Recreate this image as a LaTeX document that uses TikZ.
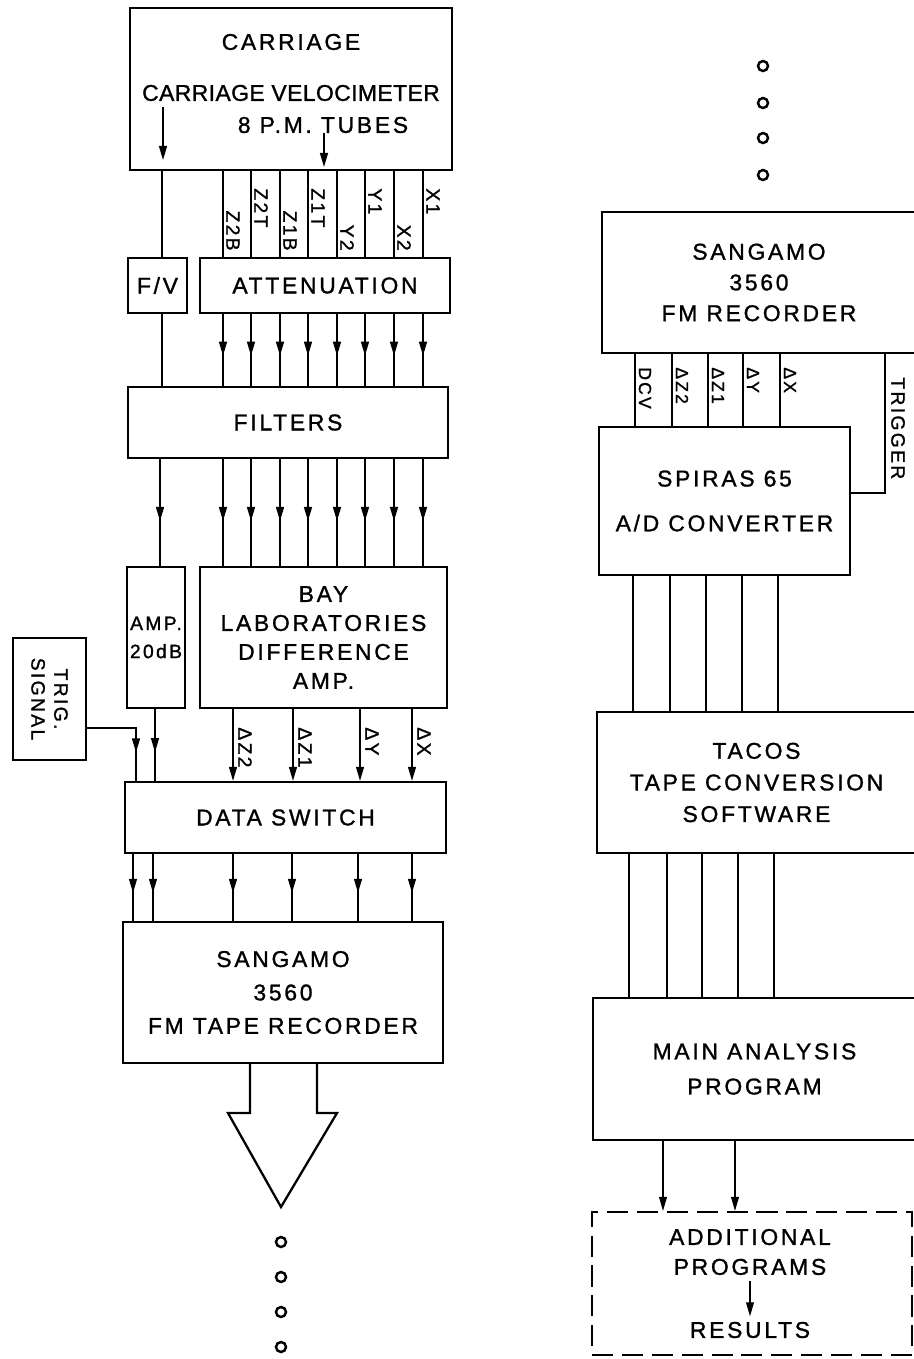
\documentclass[tikz,border=0pt]{standalone}
\usepackage{fontspec}
\setmainfont{Liberation Sans}[LetterSpace=12,FakeBold=1.2]
\usetikzlibrary{arrows.meta,decorations.markings}

\begin{document}
\begin{tikzpicture}[x=0.02cm,y=-0.02cm,
    blk/.style={draw, line width=1.3pt, inner sep=0pt, align=center, font=\fontsize{13}{18}\selectfont},
    txt/.style={inner sep=0pt, align=center, font=\fontsize{13}{18}\selectfont},
    wire/.style={line width=0.9pt},
    lead/.style={line width=0.6pt},
    lbl/.style={rotate=-90, inner sep=0pt, font=\fontsize{11}{13}\selectfont},
    headend/.style={-{Triangle[length=8pt,width=4.5pt]}},
    midarrow/.style={postaction={decorate}, decoration={markings,
        mark=at position #1 with {\arrow{Triangle[length=8pt,width=4.5pt]}}}},
    midarrow/.default=0.58,
    ring/.style={line width=1.4pt}]
\useasboundingbox (0,0) rectangle (913,1359);

%Chaine de mesure
\node[blk, minimum width=6.44cm, minimum height=3.24cm] (carriage) at (291,89) {};
\node[txt] (ctitle) at (291,42) {CARRIAGE};
\node[txt, font={\fontsize{13}{15}\selectfont\addfontfeatures{LetterSpace=2}}] (cvel) at (291,93) {CARRIAGE VELOCIMETER};
\node[txt] (ctubes) at (323,125) {8 P.M. TUBES};
\draw[wire,headend] (163,107) -- (163,160);
\draw[wire,headend] (324,133) -- (324,167);

\node[blk, minimum width=1.18cm, minimum height=1.1cm] (fv) at (157.5,285.5) {F/V};
\node[blk, minimum width=5cm, minimum height=1.1cm] (atten) at (325,285.5) {ATTENUATION};
\node[blk, minimum width=6.4cm, minimum height=1.42cm] (filters) at (288,422.5) {FILTERS};
\node[blk, minimum width=1.16cm, minimum height=2.82cm, font=\fontsize{11}{16}\selectfont] (amp) at (156,637.5) {AMP.\\20dB};
\node[blk, minimum width=4.94cm, minimum height=2.82cm, font=\fontsize{13}{16.5}\selectfont] (bay) at (323.5,637.5) {BAY\\LABORATORIES\\DIFFERENCE\\AMP.};
\node[blk, minimum width=1.46cm, minimum height=2.44cm] (trig) at (49.5,699) {};
\node[lbl, align=center] (trigtxt) at (trig.center) {TRIG.\\SIGNAL};
\node[blk, minimum width=6.42cm, minimum height=1.42cm] (dswitch) at (285.5,817.5) {DATA SWITCH};
\node[blk, minimum width=6.4cm, minimum height=2.82cm, font=\fontsize{13}{19}\selectfont] (tape) at (283,992.5) {SANGAMO\\3560\\FM TAPE RECORDER};

%Voies
\draw[wire] (carriage.south -| 162,0) -- (fv.north -| 162,0);
\foreach \x/\t/\a/\y in {223/Z2B/east/251, 251/Z2T/west/188, 280/Z1B/east/251, 308/Z1T/west/188,
                         337/Y2/east/251, 365/Y1/west/188, 394/X2/east/251, 423/X1/west/188} {
    \draw[wire] (carriage.south -| \x,0) -- (atten.north -| \x,0);
    \node[lbl, anchor=\a] (ch\t) at (\x+10,\y) {\t};
    \draw[wire,midarrow] (atten.south -| \x,0) -- (filters.north -| \x,0);
    \draw[wire,midarrow] (filters.south -| \x,0) -- (bay.north -| \x,0);
}
\draw[wire] (fv.south -| 162,0) -- (filters.north -| 162,0);
\draw[wire,midarrow] (filters.south -| 160,0) -- (amp.north -| 160,0);

\draw[wire,midarrow=0.72] (trig.east |- 0,728) -| (dswitch.north -| 136,0);
\draw[wire,midarrow=0.6] (amp.south -| 155,0) -- (dswitch.north -| 155,0);
\foreach \x/\t in {233/Z2, 293/Z1, 360/Y, 412/X} {
    \draw[wire,headend] (bay.south -| \x,0) -- (dswitch.north -| \x,0);
    \node[lbl, anchor=west] (d\t) at (\x+12,727) {Δ\t};
}
\foreach \x in {133,153,233,292,358,412}
    \draw[wire,midarrow] (dswitch.south -| \x,0) -- (tape.north -| \x,0);

%Bande
\draw[line width=1.3pt, line join=miter] (tape.south -| 250,0) -- (250,1113) -- (228,1113) -- (281,1207)
    -- (337,1113) -- (317,1113) -- (tape.south -| 317,0);
\foreach \y in {1242,1277,1312,1347}
    \draw[ring] (281,\y) circle[radius=1mm];

%Depouillement
\foreach \y in {66,103,138,175}
    \draw[ring] (763,\y) circle[radius=1mm];
\node[blk, minimum width=6.28cm, minimum height=2.82cm, font=\fontsize{13}{17.5}\selectfont] (rec) at (759,282.5) {SANGAMO\\3560\\FM RECORDER};
\node[blk, minimum width=5.02cm, minimum height=2.96cm, font=\fontsize{13}{17.5}\selectfont] (spiras) at (724.5,501) {SPIRAS 65\\[8pt]A/D CONVERTER};
\node[blk, minimum width=6.38cm, minimum height=2.82cm, font=\fontsize{13}{18}\selectfont] (tacos) at (756.5,782.5) {TACOS\\TAPE CONVERSION\\SOFTWARE};
\node[blk, minimum width=6.46cm, minimum height=2.84cm, font=\fontsize{13}{20}\selectfont] (mainprog) at (754.5,1069) {MAIN ANALYSIS\\PROGRAM};
\node[blk, minimum width=6.4cm, minimum height=2.86cm, dash pattern=on 12pt off 5pt] (addprog) at (752,1283.5) {};

\foreach \x/\t in {635/DCV, 672/ΔZ2, 708/ΔZ1, 743/ΔY, 780/ΔX} {
    \draw[lead] (rec.south -| \x,0) -- (spiras.north -| \x,0);
    \node[lbl, anchor=west, font=\fontsize{10}{12}\selectfont] (r\x) at (\x+10,367) {\t};
}
\draw[lead] (rec.south -| 885,0) |- (spiras.east |- 0,493);
\node[lbl, anchor=west] (trigger) at (898,377) {TRIGGER};
\foreach \x in {633,670,706,742,778}
    \draw[lead] (spiras.south -| \x,0) -- (tacos.north -| \x,0);
\foreach \x in {629,667,702,738,774}
    \draw[lead] (tacos.south -| \x,0) -- (mainprog.north -| \x,0);
\foreach \x in {663,735}
    \draw[lead,headend] (mainprog.south -| \x,0) -- (addprog.north -| \x,0);
\node[txt, font=\fontsize{13}{17}\selectfont] (addtxt) at (750,1252) {ADDITIONAL\\PROGRAMS};
\node[txt] (results) at (750,1330) {RESULTS};
\draw[lead,headend,shorten <=3pt,shorten >=3pt] (addtxt.south) -- (results.north);
\end{tikzpicture}
\end{document}
